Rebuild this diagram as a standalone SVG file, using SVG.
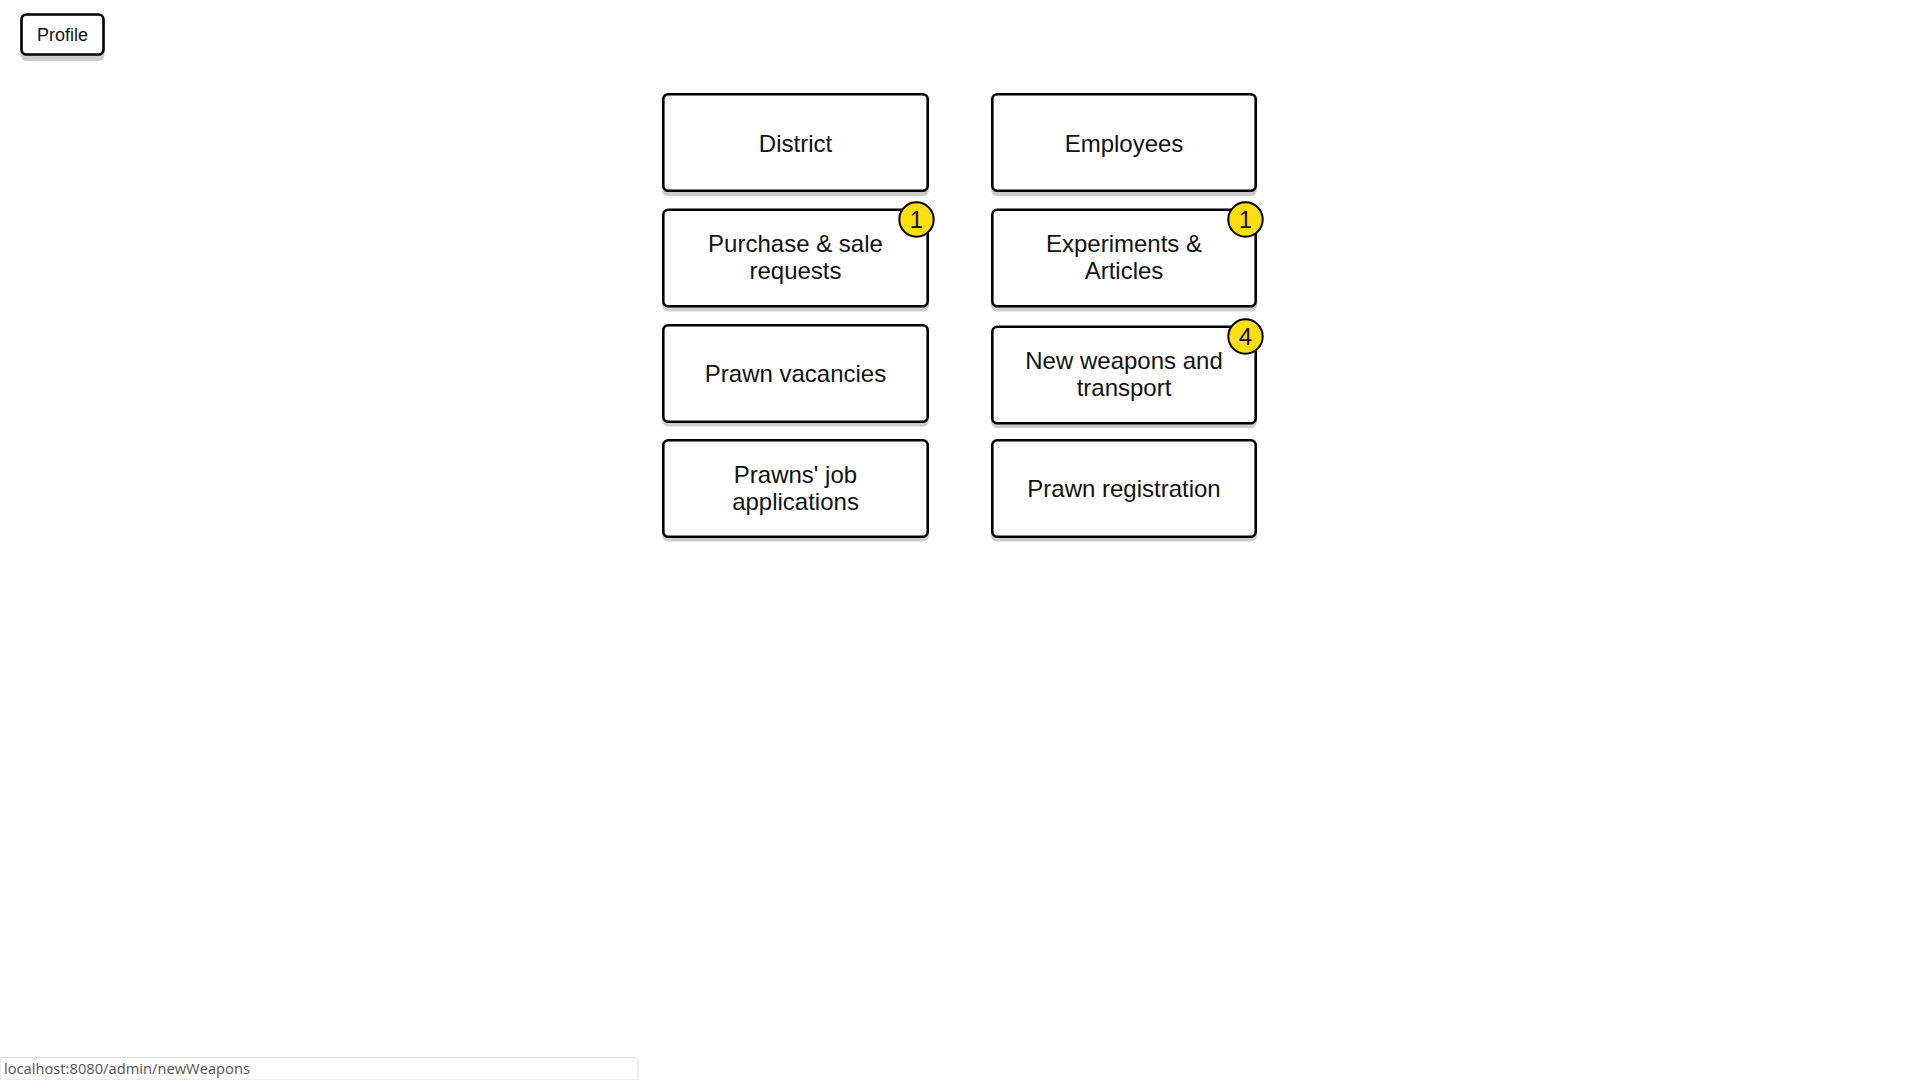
<svg xmlns="http://www.w3.org/2000/svg" width="1920" height="1080" viewBox="0 0 1920 1080">
<defs>
<style>
.sh{fill:#cdcdcd}
.bx{fill:#fff;stroke:#000;stroke-width:2.6}
.lb{font-family:"Liberation Sans",Arial,sans-serif;font-size:24px;fill:#111;text-anchor:middle}
.bd{fill:#ffdf11;stroke:#000;stroke-width:2}
.bt{font-family:"Liberation Sans",Arial,sans-serif;font-size:24px;fill:#111;text-anchor:middle}
</style>
</defs>
<rect width="1920" height="1080" fill="#fff"/>
<g id="profile">
<rect class="sh" x="20.5" y="18" width="84" height="43" rx="6"/>
<rect class="bx" x="21.5" y="14.5" width="82" height="40" rx="5" stroke-width="2.4"/>
<text x="62.5" y="40.5" font-family="Liberation Sans,Arial,sans-serif" font-size="18" fill="#111" text-anchor="middle">Profile</text>
</g>
<g id="connectors"></g>
<g id="district">
<rect class="sh" x="662" y="97.5" width="267" height="98.5" rx="6"/>
<rect class="bx" x="663.3" y="94.3" width="264.4" height="96.4" rx="5"/>
<text class="lb" x="795.5" y="151.5">District</text>
</g>
<g id="employees">
<rect class="sh" x="991" y="97.5" width="266" height="98.5" rx="6"/>
<rect class="bx" x="992.3" y="94.3" width="263.4" height="96.4" rx="5"/>
<text class="lb" x="1124" y="151.5">Employees</text>
</g>
<g id="purchase">
<rect class="sh" x="662" y="213" width="267" height="98.5" rx="6"/>
<rect class="bx" x="663.3" y="209.8" width="264.4" height="96.4" rx="5"/>
<text class="lb" x="795.5" y="251.5">Purchase &amp; sale</text>
<text class="lb" x="795.5" y="279">requests</text>
<circle class="bd" cx="916.5" cy="219.5" r="17.2"/>
<text class="bt" x="916.5" y="228.3">1</text>
</g>
<g id="experiments">
<rect class="sh" x="991" y="213" width="266" height="98.5" rx="6"/>
<rect class="bx" x="992.3" y="209.8" width="263.4" height="96.4" rx="5"/>
<text class="lb" x="1124" y="251.5">Experiments &amp;</text>
<text class="lb" x="1124" y="279">Articles</text>
<circle class="bd" cx="1245.5" cy="219.5" r="17.2"/>
<text class="bt" x="1245.5" y="228.3">1</text>
</g>
<g id="vacancies">
<rect class="sh" x="662" y="328" width="267" height="98.5" rx="6"/>
<rect class="bx" x="663.3" y="325.3" width="264.4" height="96.4" rx="5"/>
<text class="lb" x="795.5" y="381.5">Prawn vacancies</text>
</g>
<g id="weapons">
<rect class="sh" x="991" y="329.5" width="266" height="98.5" rx="6"/>
<rect class="bx" x="992.3" y="326.8" width="263.4" height="96.4" rx="5"/>
<text class="lb" x="1124" y="368.5">New weapons and</text>
<text class="lb" x="1124" y="396">transport</text>
<circle class="bd" cx="1245.5" cy="336.5" r="17.2"/>
<text class="bt" x="1245.5" y="345.3">4</text>
</g>
<g id="applications">
<rect class="sh" x="662" y="443" width="267" height="98.5" rx="6"/>
<rect class="bx" x="663.3" y="440.3" width="264.4" height="96.4" rx="5"/>
<text class="lb" x="795.5" y="482.5">Prawns' job</text>
<text class="lb" x="795.5" y="510">applications</text>
</g>
<g id="registration">
<rect class="sh" x="991" y="443" width="266" height="98.5" rx="6"/>
<rect class="bx" x="992.3" y="440.3" width="263.4" height="96.4" rx="5"/>
<text class="lb" x="1124" y="496.5">Prawn registration</text>
</g>
<g id="statusbar">
<path d="M0 1057.5 H634 a4 4 0 0 1 4 4 V1080 H0 Z" fill="#fff" stroke="#dcdcdc" stroke-width="1"/>
<text x="4" y="1073.5" font-family="Open Sans,DejaVu Sans,sans-serif" font-size="15" fill="#555" textLength="246" lengthAdjust="spacingAndGlyphs">localhost:8080/admin/newWeapons</text>
</g>
</svg>
